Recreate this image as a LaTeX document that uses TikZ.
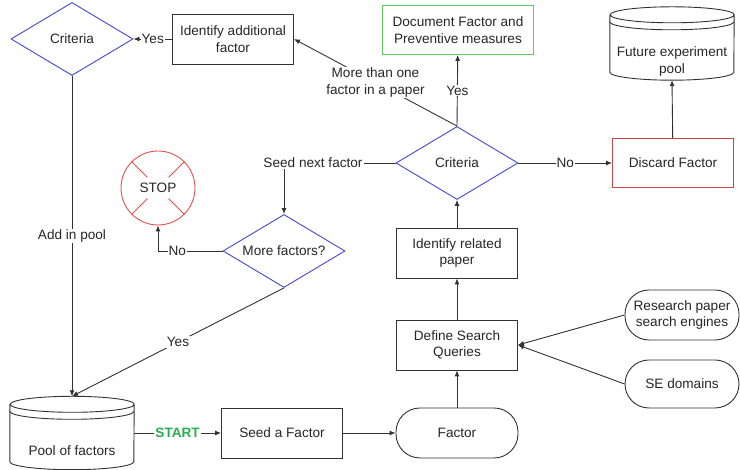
\documentclass[tikz,border=0pt]{standalone}
\usepackage{fontspec}
\setmainfont{Liberation Sans}
\usetikzlibrary{shapes,arrows.meta,calc}
\definecolor{linegray}{RGB}{50,50,50}
\definecolor{critblue}{RGB}{70,70,215}
\definecolor{docgreen}{RGB}{90,205,90}
\definecolor{discred}{RGB}{200,70,70}
\definecolor{stopred}{RGB}{225,80,80}
\definecolor{startgreen}{RGB}{40,175,80}
\tikzset{
block/.style = {draw=linegray, line width=0.9pt, fill=white, rectangle, minimum height=50pt, minimum width=121pt, align=center, inner sep=2pt},
decision/.style = {draw=critblue, line width=0.9pt, fill=white, diamond, aspect=1.67, minimum width=122pt, minimum height=73pt, inner sep=0pt},
term/.style = {draw=linegray, line width=0.9pt, fill=white, rectangle, rounded corners=24pt, minimum height=50pt, minimum width=122pt, align=center},
store/.style = {minimum width=124pt, minimum height=73pt, inner sep=0pt},
stopsign/.style = {draw=stopred, line width=0.9pt, circle, minimum size=74pt, inner sep=0pt},
lbl/.style = {fill=white, inner sep=1pt},
line/.style = {draw=linegray, line width=0.9pt}
}
% outline of a data store round an empty node
\newcommand{\storeoutline}[1]{%
  \draw [line] ($(#1.north west)+(0,-8)$) -- ($(#1.south west)+(0,8)$)
    arc [start angle=180, end angle=360, x radius=62pt, y radius=8pt]
    -- ($(#1.north east)+(0,-8)$)
    arc [start angle=0, end angle=360, x radius=62pt, y radius=8pt];
  \draw [line] ($(#1.north west)+(0,-15)$)
    arc [start angle=180, end angle=360, x radius=62pt, y radius=8pt];
}
\begin{document}
\begin{tikzpicture}[x=1pt, y=1pt, >={Latex[length=6pt,width=5pt]}, font=\fontsize{13.6}{16.5}\selectfont, text=black!85]
    \useasboundingbox (0,0) rectangle (740,470);
    % We start by placing the blocks
    \node [decision] (crit1) at (72,431) {Criteria};
    \node [block] (addfac) at (233,431) {Identify additional\\factor};
    \node [block, draw=docgreen, minimum width=151pt, minimum height=49pt] (docfac) at (458,440) {Document Factor and\\Preventive measures};
    \node [store] (future) at (672,426.5) {};
    \node [align=center] (futuretxt) at ($(future.center)+(0,-18)$) {Future experiment\\pool};
    \node [decision] (crit2) at (457,307) {Criteria};
    \node [block, draw=discred, minimum height=49pt] (discard) at (673,307) {Discard Factor};
    \node [stopsign] (stop) at (158,282) {STOP};
    \node [decision] (morefac) at (284,219) {More factors?};
    \node [block] (idrel) at (457,217) {Identify related\\paper};
    \node [block] (define) at (457,125) {Define Search\\Queries};
    \node [term] (factor) at (457,37) {Factor};
    \node [block] (seed) at (282,37) {Seed a Factor};
    \node [store] (pool) at (72,37) {};
    \node (pooltxt) at ($(pool.center)+(0,-18)$) {Pool of factors};
    \node [term, minimum width=114pt] (engines) at (682,155) {Research paper\\search engines};
    \node [term, minimum width=114pt, minimum height=48pt] (domains) at (682,86) {SE domains};

    % store outlines and the stop cross
    \storeoutline{future}
    \storeoutline{pool}
    \foreach \a in {45,135,225,315}
        \draw [draw=stopred, line width=0.9pt] (stop.\a) -- ($(stop.center)!0.4!(stop.\a)$);

    % Once the nodes are placed, connecting them is easy.
    \draw [line,->] (addfac.west) -- node [lbl] {Yes} (crit1.east);
    \draw [line,->] (crit2.north) -- node [lbl] {Yes} (docfac);
    \draw [line,->] (crit2.north) -- node [lbl, align=center] {More than one\\factor in a paper} (addfac.east);
    \draw [line,->] (crit2) -- node [lbl] {No} (discard);
    \draw [line,->] (discard) -- (future.south);
    \draw [line,->] (crit2.west) -| node [lbl, pos=0.37] {Seed next factor} (morefac.north);
    \draw [line,->] (morefac.west) -| node [lbl, pos=0.35] {No} (stop.south);
    \draw [line,->] (morefac.south) -- node [lbl] {Yes} (pool.north);
    \draw [line,->] (crit1.south) -- node [lbl] {Add in pool} (pool.north);
    \draw [line,->] (pool.east) -- node [lbl, text=startgreen, font=\fontsize{13.6}{16.5}\selectfont\bfseries] {START} (seed);
    \draw [line,->] (seed) -- (factor);
    \draw [line,->] (factor) -- (define);
    \draw [line,->] (define) -- (idrel);
    \draw [line,->] (idrel) -- (crit2);
    \draw [line,->] (engines.west) -- (define.east);
    \draw [line,->] (domains.west) -- (define.east);
\end{tikzpicture}
\end{document}
